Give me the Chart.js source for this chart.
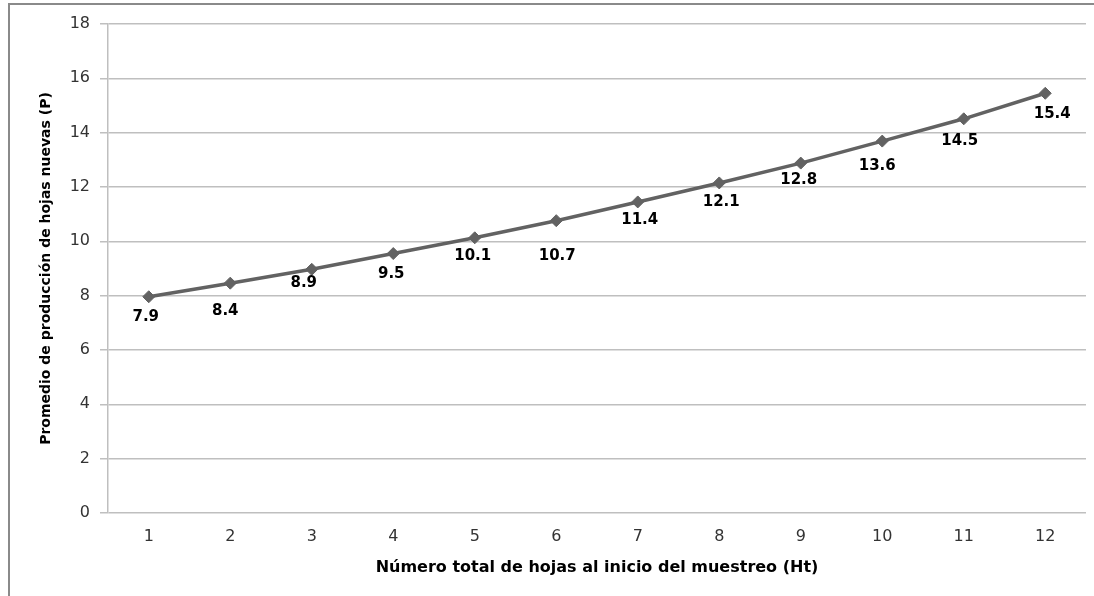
<!DOCTYPE html>
<html>
<head>
<meta charset="utf-8">
<script src="https://cdn.jsdelivr.net/npm/chart.js@4.4.0/dist/chart.umd.min.js"></script>
<style>
  html, body { margin: 0; padding: 0; background: #fff; overflow: hidden; }
  #wrap { position: relative; width: 1094px; height: 596px; }
  #frame { position: absolute; left: 8px; top: 3px; width: 3000px; height: 3000px;
           border-left: 2px solid #8a8a8a; border-top: 2px solid #8a8a8a; pointer-events: none; }
</style>
</head>
<body>
<div id="wrap">
  <canvas id="c" width="1094" height="596"></canvas>
  <div id="frame"></div>
</div>
<script>
// ---- data ----
const categories = ['1','2','3','4','5','6','7','8','9','10','11','12'];
const values = [7.96, 8.46, 8.97, 9.55, 10.13, 10.76, 11.45, 12.15, 12.88, 13.69, 14.51, 15.45];
const dataLabels = ['7.9','8.4','8.9','9.5','10.1','10.7','11.4','12.1','12.8','13.6','14.5','15.4'];
const yTickMin = 0, yTickMax = 18, yTickStep = 2;
const xTitle = 'Número total de hojas al inicio del muestreo (Ht)';
const yTitle = 'Promedio de producción de hojas nuevas (P)';
// label nudges relative to each point (text placement only)
const labelDx = [-3, -5, -8, -2, -2, 1, 2, 2, -2, -5, -4, 7];
const labelDy = [20, 28, 14, 21, 18, 35, 18, 19, 17, 25, 22, 21];

const labelPlugin = {
  id: 'pointLabels',
  afterDatasetsDraw(chart) {
    const ctx = chart.ctx;
    const meta = chart.getDatasetMeta(0);
    ctx.save();
    ctx.font = 'bold 15px "DejaVu Sans"';
    ctx.fillStyle = '#000';
    ctx.textAlign = 'center';
    ctx.textBaseline = 'middle';
    meta.data.forEach((pt, i) => {
      ctx.fillText(dataLabels[i], pt.x + labelDx[i], pt.y + labelDy[i]);
    });
    ctx.restore();
  }
};

new Chart(document.getElementById('c'), {
  type: 'line',
  data: {
    labels: categories,
    datasets: [{
      data: values,
      borderColor: '#626262',
      backgroundColor: '#626262',
      borderWidth: 3.5,
      pointStyle: 'rectRot',
      pointRadius: 6,
      pointBackgroundColor: '#626262',
      pointBorderColor: '#626262',
      pointBorderWidth: 1,
      tension: 0,
      fill: false,
      clip: false
    }]
  },
  options: {
    responsive: false,
    animation: false,
    layout: { padding: { top: 24, right: 8, left: 0, bottom: 0 } },
    plugins: { legend: { display: false }, tooltip: { enabled: false } },
    scales: {
      x: {
        offset: true,
        grid: { display: false, drawTicks: false },
        border: { display: false },
        ticks: { color: '#333', font: { family: 'DejaVu Sans', size: 16 }, padding: 14, maxRotation: 0 },
        title: { display: true, text: xTitle, color: '#000',
                 font: { family: 'DejaVu Sans', size: 16, weight: 'bold' }, padding: { top: 0, bottom: 19 } },
        afterFit(scale) { scale.height = 83; }
      },
      y: {
        min: yTickMin, max: yTickMax,
        grid: { color: '#bfbfbf', lineWidth: 1.5, drawTicks: true, tickLength: 8, tickColor: '#bfbfbf' },
        border: { display: true, color: '#bfbfbf', width: 1.5 },
        ticks: { stepSize: yTickStep, color: '#333', font: { family: 'DejaVu Sans', size: 16 }, padding: 10 },
        title: { display: true, text: yTitle, color: '#000',
                 font: { family: 'DejaVu Sans', size: 14, weight: 'bold' }, padding: { top: 38, bottom: 0 } },
        afterFit(scale) { scale.width = 108; }
      }
    }
  },
  plugins: [labelPlugin]
});
</script>
</body>
</html>
